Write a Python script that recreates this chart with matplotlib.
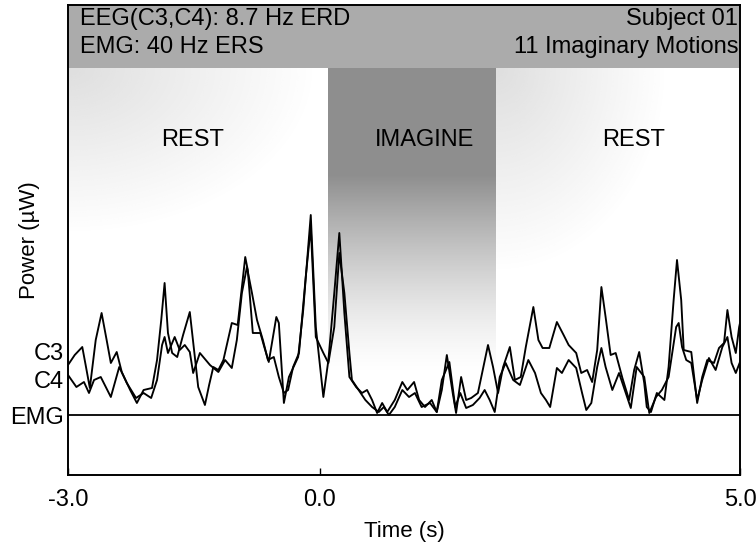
import numpy as np
import matplotlib
matplotlib.use("Agg")
import matplotlib.pyplot as plt

plt.rcParams['font.family'] = ['Liberation Sans', 'DejaVu Sans']

# traces: (time s, power, arbitrary units; EMG baseline = 0)
c3 = [(-3.00, 5.0), (-2.92, 6.0), (-2.83, 6.8), (-2.79, 5.0), (-2.74, 2.7),
      (-2.67, 7.5), (-2.60, 10.2), (-2.54, 7.5), (-2.49, 5.2), (-2.42, 6.3),
      (-2.36, 4.3), (-2.26, 2.5), (-2.18, 1.2), (-2.10, 2.5), (-2.00, 2.7),
      (-1.94, 5.5), (-1.89, 9.5), (-1.85, 13.2), (-1.81, 8.2), (-1.76, 6.2),
      (-1.70, 5.8), (-1.63, 8.0), (-1.55, 10.3), (-1.49, 5.8), (-1.45, 2.8),
      (-1.37, 1.0), (-1.32, 3.0), (-1.27, 4.8), (-1.21, 4.5), (-1.15, 5.5),
      (-1.05, 9.2), (-0.98, 9.0), (-0.89, 15.8), (-0.86, 14.5), (-0.80, 8.2),
      (-0.71, 8.2), (-0.67, 7.0), (-0.61, 5.3), (-0.52, 9.8), (-0.49, 9.2),
      (-0.43, 1.2), (-0.37, 3.8), (-0.26, 5.8), (-0.20, 10.5), (-0.11, 20.0),
      (-0.05, 8.8), (0.04, 1.8), (0.10, 5.5), (0.17, 12.2), (0.23, 18.2),
      (0.29, 10.2), (0.35, 3.8), (0.43, 2.8), (0.50, 2.2), (0.56, 2.5),
      (0.62, 1.5), (0.68, 0.2), (0.74, 1.2), (0.80, 0.3), (0.89, 1.5),
      (0.98, 3.3), (1.04, 2.5), (1.12, 3.3), (1.18, 1.5), (1.25, 0.8),
      (1.33, 1.5), (1.39, 0.3), (1.45, 2.5), (1.51, 6.0), (1.58, 2.2),
      (1.62, 0.2), (1.68, 3.8), (1.74, 1.5), (1.80, 1.7), (1.88, 2.2),
      (2.00, 7.0), (2.06, 4.8), (2.12, 2.2), (2.18, 4.8), (2.26, 6.8),
      (2.32, 3.5), (2.39, 3.8), (2.45, 6.8), (2.54, 10.8), (2.60, 7.5),
      (2.65, 6.7), (2.73, 6.7), (2.82, 9.3), (2.90, 8.0), (2.96, 7.0),
      (3.05, 6.2), (3.11, 4.2), (3.18, 4.5), (3.24, 3.3), (3.30, 6.5),
      (3.35, 12.8), (3.40, 9.8), (3.46, 6.0), (3.52, 6.2), (3.60, 3.7),
      (3.68, 1.5), (3.74, 4.5), (3.80, 6.3), (3.86, 3.2), (3.89, 0.8),
      (3.94, 0.3), (4.01, 2.2), (4.10, 1.5), (4.15, 4.8), (4.21, 11.5),
      (4.25, 15.5), (4.30, 11.5), (4.33, 6.5), (4.42, 6.3), (4.49, 1.2),
      (4.55, 3.8), (4.61, 5.5), (4.69, 5.2), (4.75, 6.7), (4.81, 7.2),
      (4.85, 10.5), (4.90, 7.8), (4.95, 6.2), (4.99, 8.8), (5.00, 9.2)]

c4 = [(-3.00, 4.0), (-2.90, 2.8), (-2.81, 3.3), (-2.75, 2.2), (-2.69, 3.5),
      (-2.61, 3.8), (-2.49, 1.8), (-2.39, 4.8), (-2.30, 3.2), (-2.19, 1.7),
      (-2.10, 2.2), (-2.01, 1.7), (-1.94, 3.5), (-1.88, 7.0), (-1.85, 7.8),
      (-1.81, 6.2), (-1.73, 7.8), (-1.67, 6.5), (-1.61, 7.0), (-1.55, 6.3),
      (-1.51, 4.2), (-1.43, 6.2), (-1.31, 5.0), (-1.21, 4.3), (-1.13, 5.5),
      (-1.05, 4.7), (-0.99, 7.5), (-0.93, 12.2), (-0.87, 14.8), (-0.81, 12.2),
      (-0.75, 9.5), (-0.68, 7.5), (-0.62, 5.5), (-0.55, 5.8), (-0.49, 3.8),
      (-0.43, 2.2), (-0.38, 2.5), (-0.32, 4.8), (-0.25, 6.2), (-0.17, 13.8),
      (-0.11, 18.8), (-0.05, 7.8), (0.04, 6.2), (0.10, 5.2), (0.17, 8.8),
      (0.23, 16.2), (0.29, 12.2), (0.35, 6.2), (0.38, 3.5), (0.46, 2.5),
      (0.54, 1.5), (0.62, 0.8), (0.70, 0.3), (0.76, 0.8), (0.82, 0.0),
      (0.89, 0.8), (0.98, 2.5), (1.06, 1.8), (1.13, 2.2), (1.21, 0.8),
      (1.31, 1.2), (1.39, 0.3), (1.45, 3.5), (1.54, 5.3), (1.61, 0.8),
      (1.67, 2.2), (1.74, 0.7), (1.82, 1.0), (1.90, 1.7), (1.96, 2.5),
      (2.02, 1.5), (2.08, 0.3), (2.14, 3.8), (2.21, 5.2), (2.30, 3.5),
      (2.38, 3.0), (2.48, 5.5), (2.56, 4.2), (2.63, 2.2), (2.69, 1.5),
      (2.74, 0.8), (2.82, 4.7), (2.88, 4.2), (2.96, 5.5), (3.05, 4.7),
      (3.12, 2.2), (3.17, 0.5), (3.23, 1.2), (3.30, 4.8), (3.35, 6.7),
      (3.40, 4.8), (3.48, 2.5), (3.56, 4.2), (3.64, 2.2), (3.70, 0.7),
      (3.77, 4.8), (3.86, 3.8), (3.92, 0.2), (4.00, 1.8), (4.07, 2.5),
      (4.15, 3.8), (4.24, 8.8), (4.27, 9.2), (4.31, 6.8), (4.36, 5.5),
      (4.42, 5.2), (4.49, 1.5), (4.55, 3.5), (4.63, 5.7), (4.71, 4.5),
      (4.79, 6.8), (4.85, 7.8), (4.90, 5.2), (4.95, 4.2), (5.00, 5.3)]

emg_level = 0.0
imagine = (0.1, 2.1)          # imagery interval (s)
trace_names = ['C3', 'C4', 'EMG']
trace_levels = [6.3, 3.5, 0.0]
xticks = [-3.0, 0.0, 5.0]
phase_labels = ['REST', 'IMAGINE', 'REST']
phase_x = [-1.52, 1.25, 3.73]
header_left = ['EEG(C3,C4): 8.7 Hz ERD', 'EMG: 40 Hz ERS']
header_right = ['Subject 01', '11 Imaginary Motions']

c3_t, c3_v = np.array(c3).T
c4_t, c4_v = np.array(c4).T

fig = plt.figure(figsize=(7.56, 5.44), dpi=100)
ax = fig.add_axes([68/756, 1-475/544, 672/756, 470/544])
ymin, ymax = -6, 41
band_lo = 34.7
ax.set_xlim(-3, 5)
ax.set_ylim(ymin, ymax)

# header band
ax.axhspan(band_lo, ymax, color='#ababab', zorder=0, lw=0)

# imagine column: dark at top, fading out toward the baseline
yy = np.linspace(0, 1, 200)[:, None]          # 0 = top
a = np.where(yy < 0.35, 1.0, np.clip((1 - yy) / 0.65, 0, 1) ** 1.4)
img = np.zeros((200, 1, 4))
img[..., :3] = 0.56
img[..., 3] = a
ax.imshow(img, extent=[imagine[0], imagine[1], 4.0, band_lo], aspect='auto',
          zorder=0, interpolation='bilinear')

# light stipple-like haze in the rest periods
gx = np.linspace(0, 1, 160)[None, :]
gy = np.linspace(0, 1, 160)[:, None]
haze_l = np.clip(1 - np.sqrt((gx / 0.95) ** 2 + (gy / 0.8) ** 2), 0, 1) * 0.32
img_l = np.zeros((160, 160, 4))
img_l[..., :3] = 0.6
img_l[..., 3] = haze_l
ax.imshow(img_l, extent=[-3, imagine[0], 14, band_lo], aspect='auto',
          zorder=0, interpolation='bilinear')
haze_r = np.clip(1 - np.sqrt((gx / 0.7) ** 2 + (gy / 0.9) ** 2), 0, 1) * 0.32
img_r = np.zeros((160, 160, 4))
img_r[..., :3] = 0.6
img_r[..., 3] = haze_r
ax.imshow(img_r, extent=[imagine[1], 5, 12, band_lo], aspect='auto',
          zorder=0, interpolation='bilinear')

# traces
ax.plot(c3_t, c3_v, color='black', lw=1.35, zorder=3, solid_joinstyle='round')
ax.plot(c4_t, c4_v, color='black', lw=1.35, zorder=3, solid_joinstyle='round')
ax.axhline(emg_level, color='black', lw=1.3, zorder=3)

# text
for lab, x in zip(phase_labels, phase_x):
    ax.text(x, 27.5, lab, ha='center', va='center', fontsize=17, zorder=4)
for i, (l, r) in enumerate(zip(header_left, header_right)):
    yv = 39.6 - i * 2.8
    ax.text(-2.86, yv, l, ha='left', va='center', fontsize=17, zorder=4)
    ax.text(4.98, yv, r, ha='right', va='center', fontsize=17, zorder=4)

ax.set_yticks(trace_levels)
ax.set_yticklabels(trace_names, fontsize=17)
ax.tick_params(axis='y', length=0, pad=3)
ax.set_xticks(xticks)
ax.set_xticklabels(['%.1f' % v for v in xticks], fontsize=17)
ax.tick_params(axis='x', direction='in', length=5, width=1, pad=10)
ax.set_xlabel('Time (s)', fontsize=16, labelpad=7)
ax.text(-0.057, 0.5, 'Power (\u00b5W)', transform=ax.transAxes, rotation=90,
        ha='center', va='center', fontsize=16)
for s in ax.spines.values():
    s.set_linewidth(1.4)

fig.savefig('out.png', dpi=100)
